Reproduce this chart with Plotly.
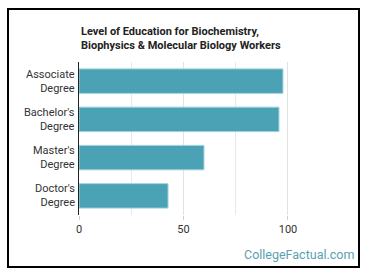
import plotly.graph_objects as go

categories = ["Associate<br>Degree", "Bachelor's<br>Degree", "Master's<br>Degree", "Doctor's<br>Degree"]
values = [97.6, 95.7, 59.8, 42.6]
tick_vals = [0, 50, 100]

W, H = 370, 278
L, R, T, B = 79, 35, 62, 63
pw, ph = W - L - R, H - T - B

def px_x(p):
    return (p - L) / pw

def px_y(p):
    return (H - B - p) / ph

fig = go.Figure(go.Bar(
    x=values, y=categories, orientation="h",
    marker=dict(color="#4aa2b4", line=dict(color="#9fd3dd", width=1)),
    hoverinfo="skip",
))

annotations = [
    dict(text="<b>Level of Education for Biochemistry,<br>Biophysics & Molecular Biology Workers</b>",
         xref="paper", yref="paper", x=px_x(79), y=px_y(23), xanchor="left", yanchor="top",
         align="left", showarrow=False, font=dict(family="Roboto", size=11, color="#222")),
    dict(text="CollegeFactual.com", xref="paper", yref="paper", x=px_x(356), y=px_y(254),
         xanchor="right", yanchor="middle", showarrow=False,
         font=dict(family="Roboto", size=12.5, color="#5a9fb2")),
]
for c in categories:
    annotations.append(dict(text=c, xref="paper", yref="y", x=px_x(77), y=c,
                            xanchor="right", yanchor="middle", align="right", showarrow=False,
                            font=dict(family="Roboto", size=11, color="#333")))

fig.update_layout(
    width=W, height=H,
    margin=dict(l=L, r=R, t=T, b=B),
    paper_bgcolor="white", plot_bgcolor="white",
    bargap=0.36,
    showlegend=False,
    font=dict(family="Roboto", size=11, color="#333"),
    xaxis=dict(range=[0, 122.5], tickvals=tick_vals, showgrid=True, gridcolor="#e2e2e2",
               gridwidth=1, zeroline=False, ticks="outside", ticklen=4, tickcolor="#d0d0d0",
               tickfont=dict(size=11, color="#333"), minor=dict(showgrid=True, gridcolor="#e9e9e9", dtick=25)),
    yaxis=dict(autorange="reversed", showline=True, linecolor="#222", linewidth=1,
               ticks="", showticklabels=False),
    shapes=[dict(type="rect", xref="paper", yref="paper",
                 x0=px_x(8), x1=px_x(359), y0=px_y(267), y1=px_y(9),
                 line=dict(color="black", width=2), fillcolor="rgba(0,0,0,0)")],
    annotations=annotations,
)

fig.write_html("out.html")
